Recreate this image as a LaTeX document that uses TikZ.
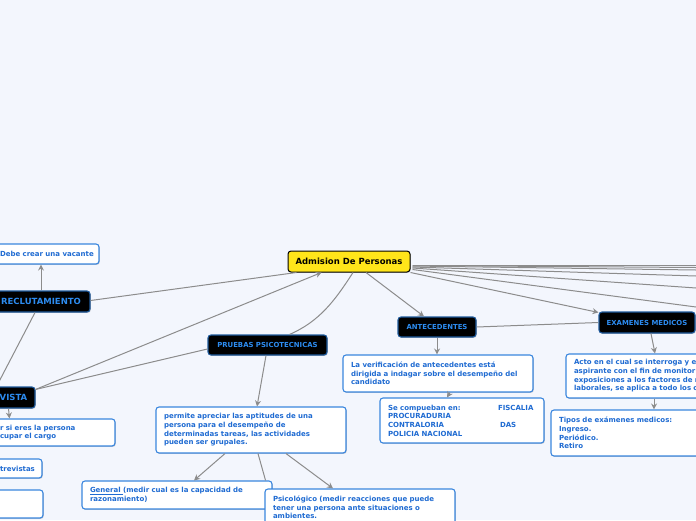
\documentclass[tikz,border=0pt]{standalone}
\usepackage{fontspec}
\setmainfont{DejaVu Sans}
\usetikzlibrary{calc,arrows.meta,shadows}
\definecolor{bg}{HTML}{F3F6FD}
\definecolor{wborder}{HTML}{3A86DE}
\definecolor{wtext}{HTML}{1F6BD2}
\definecolor{btext}{HTML}{2D8CF0}
\definecolor{bborder}{HTML}{1E5A9C}
\definecolor{conn}{HTML}{8C8C8C}
\definecolor{yel}{HTML}{FFE51A}
\tikzset{
  boxshadow/.style={drop shadow={shadow xshift=0.8pt,shadow yshift=-0.9pt,opacity=0.18,fill=black}},
  wbox/.style={draw=wborder, line width=1.1pt, fill=white, rounded corners=3pt, boxshadow,
    inner xsep=8pt, inner ysep=2pt, font=\fontsize{7}{8.7}\selectfont\bfseries, text=wtext, align=left},
  bbox/.style={draw=bborder, line width=1.1pt, fill=black, rounded corners=3pt, boxshadow,
    inner xsep=4pt, inner ysep=2pt, font=\fontsize{6.9}{8}\selectfont\bfseries, text=btext, align=center},
  bigb/.style={font=\fontsize{8.5}{10}\selectfont\bfseries},
  ybox/.style={draw=black, line width=1pt, fill=yel, rounded corners=3pt, boxshadow,
    inner sep=2pt, font=\fontsize{8.5}{10}\selectfont\bfseries, text=black},
  conn/.style={draw=conn, line width=1pt},
  arr/.style={conn, -{Stealth[length=6pt,width=6pt,inset=2pt]}}
}
\begin{document}
\begin{tikzpicture}[x=1pt,y=-1pt]
\useasboundingbox (0,0) rectangle (696,520);
\fill[bg] (0,0) rectangle (696,520);

% nodes
\node[ybox, minimum width=122pt, minimum height=21pt] (adm) at (349,261.5) {Admision De Personas};
\node[wbox, text width=91pt, minimum height=20pt] (debe) at (45.5,254) {\mbox{Debe crear una vacante}};
\node[bbox, bigb, minimum width=98pt, minimum height=21pt] (recl) at (41,301.5) {RECLUTAMIENTO};
\node[bbox, bigb, minimum width=43pt, minimum height=21pt] (entr) at (13.5,397.5) {VISTA};
\node[wbox, text width=107pt, minimum height=27pt] (rsi) at (53.5,432.5) {r si eres la persona\\cupar el cargo};
\node[wbox, text width=34pt, minimum height=19pt] (trev) at (17,468.5) {trevistas};
\node[wbox, text width=35pt, minimum height=28pt] (empt) at (17.5,504) {};
\node[bbox, minimum width=119pt, minimum height=20pt] (prue) at (267.5,345) {PRUEBAS PSICOTECNICAS};
\node[wbox, text width=174pt, minimum height=46pt] (perm) at (251,430) {permite apreciar las aptitudes de una\\persona para el desempeño de\\determinadas tareas, las actividades\\pueden ser grupales.};
\node[wbox, text width=174pt, minimum height=28pt] (gen) at (177,495) {\underline{General }(medir cual es la capacidad de\\razonamiento)};
\node[bbox, minimum width=78pt, minimum height=20pt] (ante) at (437,327) {ANTECEDENTES};
\node[wbox, text width=174pt, minimum height=37pt] (verif) at (438,373.5) {La verificación de antecedentes está\\dirigida a indagar sobre el desempeño del\\candidato};
\node[wbox, text width=148pt, minimum height=45pt] (comp) at (462,420.5) {\makebox[110pt][l]{Se compueban en:}FISCALIA\\PROCURADURIA\\\makebox[112pt][l]{CONTRALORIA}DAS\\POLICIA NACIONAL};
\node[bbox, minimum width=96pt, minimum height=21pt] (exam) at (647,322.5) {EXAMENES MEDICOS};
\node[wbox, text width=160pt, minimum height=44pt] (acto) at (654,376) {Acto en el cual se interroga y e\\aspirante con el fin de monitor\\exposiciones a los factores de r\\laborales, se aplica a todo los c};
\node[wbox, text width=160pt, minimum height=46pt] (tipos) at (639,433) {Tipos de exámenes medicos:\\Ingreso.\\Periódico.\\Retiro};

% line hidden under the General box
\draw[conn] ($(perm.south)+(7,0)$) -- ($(gen.north east)+(-7,0)$);
\node[wbox, text width=174pt, minimum height=37pt] (psi) at (360,507.5) {Psicológico (medir reacciones que puede\\tener una persona ante situaciones o\\ambientes.};

% free ends off the right edge
\coordinate (r1) at (696,265);
\coordinate (r2) at (696,267.5);
\coordinate (r3) at (696,270);
\coordinate (r4) at (696,276);
\coordinate (r5) at (696,288);
\coordinate (r6) at (696,307);

% connectors
\draw[conn] ($(recl.east)+(0,-1)$) -- ($(adm.south west)+(9,0)$);
\draw[arr] (recl.north) -- (recl.north |- debe.south);
\draw[conn] ($(recl.south)+(-6,0)$) -- ($(entr.north)+(-17,0)$);
\draw[arr] ($(entr.north east)+(0,3)$) -- ($(adm.south west)+(34,0)$);
\draw[conn] ($(entr.north east)+(0,3)$) -- ($(prue.west)+(0,4)$);
\draw[arr] ($(entr.south)+(-5,0)$) -- ($(rsi.north west)+(18,0)$);
\draw[conn] ($(adm.south)+(4,0)$) .. controls +(-18,28) and ($(prue.north)+(52,-13)$) .. ($(prue.north)+(22,0)$);
\draw[arr] ($(adm.south)+(17,0)$) -- ($(ante.north)+(-13,0)$);
\draw[arr] (adm.south east) -- ($(exam.north west)+(0,1)$);
\draw[conn] (ante.east) -- (exam.west);
\draw[arr] (ante.south) -- (ante.south |- verif.north);
\draw[arr] ($(verif.south)+(12,0)$) -- ($(comp.north)+(-15,0)$);
\draw[arr] ($(exam.south)+(4,0)$) -- ($(acto.north)+(1,0)$);
\draw[arr] (acto.south) -- (acto.south |- tipos.north);
\draw[arr] ($(prue.south)+(-1.5,0)$) -- ($(perm.north)+(6,0)$);
\draw[arr] ($(perm.south)+(-26,0)$) -- ($(gen.north)+(17,0)$);
\draw[arr] ($(perm.south)+(35,0)$) -- ($(psi.north)+(-27,0)$);

\draw[conn] ($(adm.east)+(2,3.5)$) -- (r1);
\draw[conn] ($(adm.east)+(2,4)$) -- (r2);
\draw[conn] ($(adm.east)+(2,4.5)$) -- (r3);
\draw[conn] ($(adm.east)+(2,5.5)$) -- (r4);
\draw[conn] ($(adm.east)+(2,6.5)$) -- (r5);
\draw[conn] ($(adm.east)+(2,8)$) -- (r6);
\end{tikzpicture}
\end{document}
